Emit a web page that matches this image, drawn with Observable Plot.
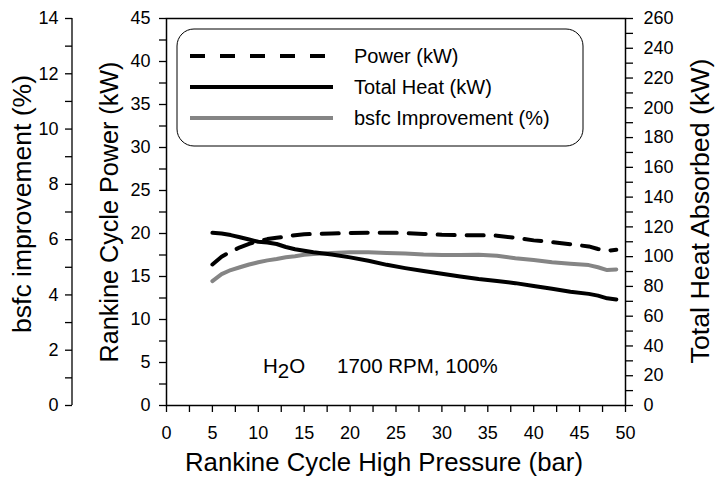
<!DOCTYPE html>
<html><head><meta charset="utf-8">
<script src="https://cdn.jsdelivr.net/npm/d3@7"></script>
<script src="https://cdn.jsdelivr.net/npm/@observablehq/plot@0.6"></script>
<style>body{margin:0;background:#fff} svg{display:block}</style>
</head><body><div id="chart"></div>
<script>
// ---- data ----
const pressure = [5,6,7,8,9,10,11,12,13,14,15,16,18,20,22,24,26,28,30,32,34,36,38,40,42,44,46,47,48,49];
const power = [16.4,17.3,17.9,18.4,18.8,19.1,19.35,19.5,19.65,19.8,19.9,19.95,20.0,20.05,20.1,20.1,20.05,19.95,19.85,19.8,19.8,19.75,19.5,19.2,19.0,18.75,18.5,18.2,18.0,18.1];
const heat = [116,115.5,114.5,113,111.5,110,109.5,108.5,106.5,105,104,103,101.5,99.5,97.2,94.5,92.3,90.3,88.5,86.7,85,83.6,82.2,80.3,78.4,76.4,75,73.8,72,71.2];
const bsfc = [4.5,4.75,4.9,5.0,5.1,5.18,5.25,5.3,5.36,5.4,5.45,5.48,5.52,5.54,5.54,5.52,5.5,5.46,5.44,5.44,5.45,5.42,5.33,5.26,5.18,5.13,5.08,5.0,4.9,4.92];
const seriesNames = ["Power (kW)", "Total Heat (kW)", "bsfc Improvement (%)"];
const xTicks = d3.range(0, 50.01, 2.5);
const powerTicks = d3.range(0, 45.01, 2.5);
const heatTicks = d3.range(0, 260.01, 10);
const bsfcTicks = d3.range(0, 14.01, 1);
const POWER_MAX = 45, HEAT_MAX = 260, BSFC_MAX = 14;
const xTitle = "Rankine Cycle High Pressure (bar)";
const yTitle = "Rankine Cycle Power (kW)";
const y2Title = "Total Heat Absorbed (kW)";
const y3Title = "bsfc improvement (%)";
const note = "1700 RPM, 100%";

const heatToPower = h => h * POWER_MAX / HEAT_MAX;
const bsfcToPower = b => b * POWER_MAX / BSFC_MAX;
const rows = pressure.map((p, i) => ({p, power: power[i], heat: heat[i], bsfc: bsfc[i]}));

const FONT = "'Liberation Sans', Arial, sans-serif";
const GRAY = "#858585";
const DASH = "17,12";

const chart = Plot.plot({
  width: 716, height: 479,
  marginLeft: 166, marginRight: 91, marginTop: 18, marginBottom: 74,
  style: {fontFamily: FONT, fontSize: "18px", color: "#000", background: "#fff"},
  x: {domain: [0, 50]},
  y: {domain: [0, POWER_MAX]},
  marks: [
    Plot.axisX({ticks: xTicks, tickFormat: d => d % 5 === 0 ? String(d) : "", tickSize: 7, tickPadding: 14, label: null, strokeWidth: 1.3}),
    Plot.axisY({ticks: powerTicks, tickFormat: d => d % 5 === 0 ? String(d) : "", anchor: "left", tickSize: 7, tickPadding: 9, label: null, strokeWidth: 1.3}),
    Plot.axisY({ticks: heatTicks.map(heatToPower), anchor: "right", tickSize: 7, tickPadding: 11, label: null, strokeWidth: 1.3,
      tickFormat: d => { const h = Math.round(d * HEAT_MAX / POWER_MAX); return h % 20 === 0 ? String(h) : ""; }}),
    Plot.axisY({ticks: bsfcTicks.map(bsfcToPower), anchor: "left", dx: -94, tickSize: 7, tickPadding: 7, label: null, strokeWidth: 1.3,
      tickFormat: d => { const b = Math.round(d * BSFC_MAX / POWER_MAX); return b % 2 === 0 ? String(b) : ""; }}),
    Plot.frame({stroke: "#000", strokeWidth: 1.5}),
    Plot.line(rows, {x: "p", y: d => bsfcToPower(d.bsfc), stroke: GRAY, strokeWidth: 4}),
    Plot.line(rows, {x: "p", y: d => heatToPower(d.heat), stroke: "#000", strokeWidth: 4}),
    Plot.line(rows, {x: "p", y: "power", stroke: "#000", strokeWidth: 4, strokeDasharray: DASH})
  ]
});
document.getElementById("chart").appendChild(chart);

// ---- overlay: outer axis line, titles, legend, note ----
const svg = d3.select(chart);
const ys = chart.scale("y");
const xs = chart.scale("x");
const left = xs.apply(0);
svg.append("line").attr("x1", left - 94).attr("x2", left - 94)
  .attr("y1", ys.apply(0)).attr("y2", ys.apply(POWER_MAX)).attr("stroke", "#000").attr("stroke-width", 1.3);

function vtitle(text, x, y, size, len) {
  svg.append("text").attr("transform", `translate(${x},${y}) rotate(-90)`)
    .attr("text-anchor", "middle").attr("font-family", FONT).attr("font-size", size)
    .attr("textLength", len).attr("lengthAdjust", "spacingAndGlyphs")
    .attr("fill", "#000").text(text);
}
vtitle(y3Title, 31, 204, 25, 258);
vtitle(yTitle, 118, 212, 25, 301);
vtitle(y2Title, 709, 211, 25, 305);
svg.append("text").attr("x", 384).attr("y", 471).attr("text-anchor", "middle")
  .attr("textLength", 398).attr("lengthAdjust", "spacingAndGlyphs")
  .attr("font-family", FONT).attr("font-size", 25).attr("fill", "#000").text(xTitle);

// legend
const lg = svg.append("g");
lg.append("rect").attr("x", 177).attr("y", 29).attr("width", 406).attr("height", 117).attr("rx", 17)
  .attr("fill", "#fff").attr("stroke", "#000").attr("stroke-width", 1);
const styles = [{stroke: "#000", dash: "15,15"}, {stroke: "#000", dash: null}, {stroke: GRAY, dash: null}];
seriesNames.forEach((name, i) => {
  const y = 56 + i * 31;
  lg.append("line").attr("x1", 190).attr("x2", 333).attr("y1", y).attr("y2", y)
    .attr("stroke", styles[i].stroke).attr("stroke-width", 4).attr("stroke-dasharray", styles[i].dash);
  lg.append("text").attr("x", 354).attr("y", y).attr("dy", "0.35em").attr("text-anchor", "start")
    .attr("font-family", FONT).attr("font-size", 20).attr("fill", "#000").text(name);
});

// note
const t = svg.append("text").attr("x", 263).attr("y", 373).attr("text-anchor", "start")
  .attr("font-family", FONT).attr("font-size", 20.5).attr("fill", "#000");
t.append("tspan").text("H");
t.append("tspan").attr("dy", 5).text("2");
t.append("tspan").attr("dy", -5).text("O");
svg.append("text").attr("x", 337).attr("y", 373).attr("text-anchor", "start")
  .attr("font-family", FONT).attr("font-size", 20.5).attr("fill", "#000").text(note);
</script>
</body></html>
